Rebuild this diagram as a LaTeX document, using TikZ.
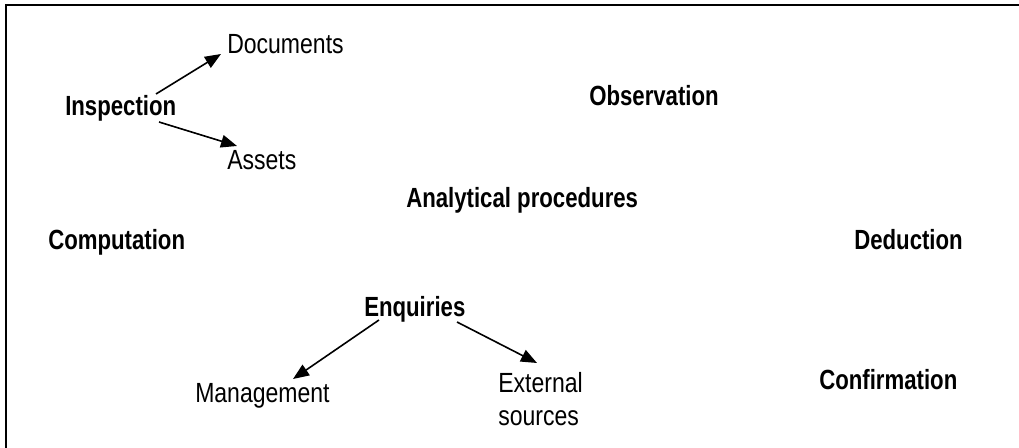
\documentclass[tikz,border=0pt]{standalone}
\usepackage{fontspec}
\newfontfamily\regfont{Liberation Sans}[FakeStretch=0.83]
\newfontfamily\boldfont{Liberation Sans}[FakeStretch=0.80]
\usetikzlibrary{arrows.meta}
\begin{document}
\begin{tikzpicture}[x=0.75pt,y=-0.75pt,
  lab/.style={font=\regfont\fontsize{20.8}{24.75}\selectfont, inner sep=0pt, anchor=base west},
  blab/.style={font=\boldfont\bfseries\fontsize{20.8}{24}\selectfont, inner sep=0pt, anchor=base west},
  arr/.style={line width=1.2pt, -{Triangle[length=12pt,width=9.5pt]}}]
\useasboundingbox (0,0) rectangle (1019,448);
\draw[line width=1.7pt] (6,448) -- (6,5) -- (1019,5);

\node[lab] (doc) at (227,54) {Documents};
\node[blab] (insp) at (65,116) {Inspection};
\node[lab] (ass) at (227,170) {Assets};
\node[blab] (obs) at (589,106) {Observation};
\node[blab] (ana) at (406,208) {Analytical procedures};
\node[blab] (comp) at (48,250) {Computation};
\node[blab] (ded) at (854,250) {Deduction};
\node[blab] (enq) at (364,317) {Enquiries};
\node[lab] (man) at (195,402) {Management};
\node[lab, anchor=north west, align=left] (ext) at (498,372) {External\\sources};
\node[blab] (conf) at (819,389) {Confirmation};

\draw[arr] ([shift={(91,-22)}]insp.base west) -- ([shift={(-6,0)}]doc.base west);
\draw[arr] ([shift={(94,6)}]insp.base west) -- ([shift={(10,-24)}]ass.base west);
\draw[arr] ([shift={(15,3)}]enq.base west) -- ([shift={(98,-23)}]man.base west);
\draw[arr] ([shift={(93,5)}]enq.base west) -- ([shift={(39,-9)}]ext.north west);
\end{tikzpicture}
\end{document}
